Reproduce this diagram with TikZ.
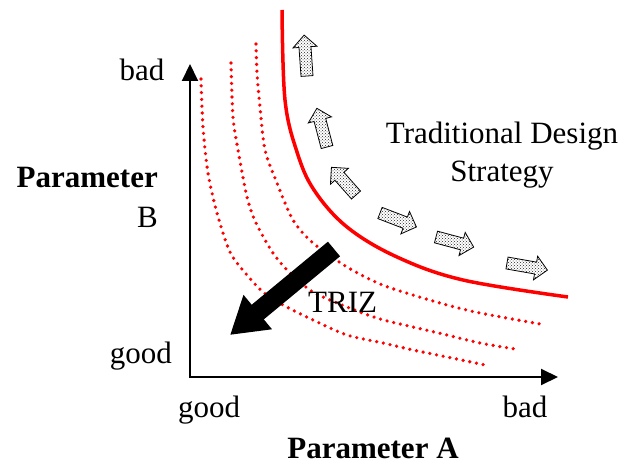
\documentclass[tikz,border=0pt]{standalone}
\usepackage{fontspec}
\setmainfont{Liberation Serif}
\usetikzlibrary{arrows.meta,patterns}
\begin{document}
\begin{tikzpicture}[x=1pt,y=-1pt,
  lbl/.style={font=\fontsize{31}{36}\selectfont, inner sep=0pt},
  blbl/.style={font=\fontsize{31}{36}\selectfont\bfseries, inner sep=0pt},
  axis/.style={line width=2pt, line join=miter, {Triangle[length=17pt,width=16pt]}-{Triangle[length=17pt,width=16pt]}},
  front/.style={red, line width=3.5pt},
  dotc/.style={red, line width=3.6pt, line cap=round, dash pattern=on 0pt off 6.8pt},
  triz/.style={line width=19pt, -{Triangle[length=36pt,width=42pt]}},
  pics/tarrow/.style={code={
    \draw[line width=0.8pt, line join=miter, fill=white,
          postaction={pattern=crosshatch dots, pattern color=black!85}]
      (0,-6) -- (#1-12,-6) -- (#1-12,-12) -- (#1,0) -- (#1-12,12) -- (#1-12,6) -- (0,6) -- cycle;
  }}
]
\useasboundingbox (0,0) rectangle (626,465);

% dotted curves
\draw[dotc] plot[smooth] coordinates {(201,79) (203,127) (208,173) (217,213) (230,252) (247,275) (263,292) (283,305) (313,320) (347,335) (383,343) (413,350) (447,357) (485,365)};
\draw[dotc] plot[smooth] coordinates {(231,63) (233,117) (238,150) (247,197) (256,223) (273,253) (290,273) (313,292) (347,307) (380,319) (413,327) (447,335) (480,343) (515,349)};
\draw[dotc] plot[smooth] coordinates {(256,44) (257,73) (260,107) (265,150) (277,183) (293,220) (313,243) (347,267) (380,284) (413,295) (447,305) (480,313) (540,324)};

% solid red front
\draw[front] plot[smooth, tension=0.6] coordinates {(282,10) (285,100) (297,152) (314,190) (347,227) (397,257) (463,280) (568,297)};

% axes
\coordinate (O) at (190,377);
\coordinate (ytip) at (190,64);
\coordinate (xtip) at (558,377);
\draw[axis] (ytip) -- (O) -- (xtip);

% TRIZ arrow
\coordinate (ts) at (334,249);
\coordinate (tt) at (230,335);
\draw[triz] (ts) -- (tt);

% traditional design strategy arrows
\pic[rotate=94]    at (307,76)  {tarrow=41};
\pic[rotate=104.7] at (327,147) {tarrow=40};
\pic[rotate=131.6] at (356,195) {tarrow=37};
\pic[rotate=-21]   at (380,213) {tarrow=39};
\pic[rotate=-15]   at (436,237) {tarrow=39};
\pic[rotate=-10]   at (507,263) {tarrow=41};

% labels
\node[lbl, anchor=base] (ybad) at (142,81) {bad};
\node[blbl, anchor=base east] (pb) at (158,187) {Parameter};
\node[lbl, anchor=base east] (b) at (158,227) {B};
\node[lbl, anchor=base east] (ygood) at (172,363) {good};
\node[lbl, anchor=base] (xgood) at (209,417) {good};
\node[lbl, anchor=base] (xbad) at (525,417) {bad};
\node[blbl, anchor=base] (pa) at (373,458) {Parameter A};
\node[lbl, anchor=base] (tds1) at (502,144) {Traditional Design};
\node[lbl, anchor=base] (tds2) at (502,182) {Strategy};
\node[lbl, anchor=base west] (trizl) at (308,312) {TRIZ};
\end{tikzpicture}
\end{document}
